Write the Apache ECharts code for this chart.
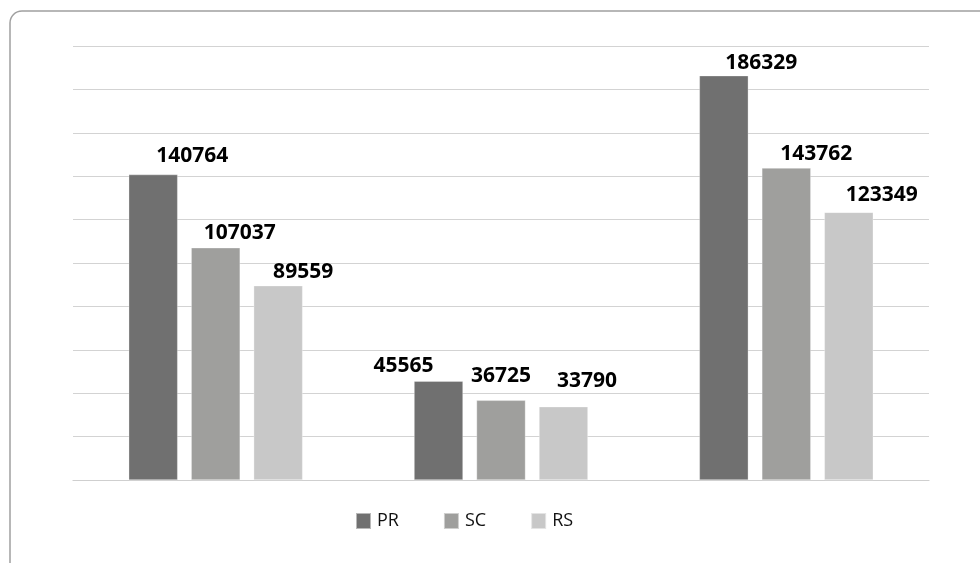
<!DOCTYPE html>
<html>
<head>
<meta charset="utf-8">
<script src="https://cdn.jsdelivr.net/npm/echarts@6/dist/echarts.min.js"></script>
<style>
html,body{margin:0;padding:0;background:#fff;}
#chart{width:980px;height:563px;}
</style>
</head>
<body>
<div id="chart"></div>
<script>
// Data
const categories = ['A', 'B', 'C'];
const seriesNames = ['PR', 'SC', 'RS'];
const prValues = [140764, 45565, 186329];
const scValues = [107037, 36725, 143762];
const rsValues = [89559, 33790, 123349];
const yMin = 0, yMax = 200000, yInterval = 20000;

// Layout / style (label nudges as placed in the original)
const colors = ['#707070', '#9f9f9d', '#c8c8c8'];
const labelOffsets = [
  [[39, -8.5], [-35, -5.5], [37.5, -3]],
  [[24, -5], [0, -14], [30, -4]],
  [[25, -4], [23.5, -16], [33, -7]]
];

const valueSets = [prValues, scValues, rsValues];

const chart = echarts.init(document.getElementById('chart'), null, {renderer: 'canvas'});

const series = seriesNames.map((name, si) => ({
  name: name,
  type: 'bar',
  barWidth: 49,
  barGap: '27.5%',
  itemStyle: {color: colors[si], borderColor: 'rgba(255,255,255,0.5)', borderWidth: 0.6},
  label: {
    show: true,
    position: 'top',
    distance: 0,
    color: '#000',
    fontFamily: 'Open Sans',
    fontWeight: 'bold',
    fontSize: 21,
    lineHeight: 20
  },
  data: valueSets[si].map((v, ci) => ({
    value: v,
    label: {offset: labelOffsets[si][ci]}
  }))
}));

chart.setOption({
  animation: false,
  backgroundColor: '#fff',
  graphic: [{
    type: 'rect',
    shape: {x: 10, y: 11, width: 1000, height: 600, r: 12},
    style: {fill: 'none', stroke: '#a0a0a0', lineWidth: 1.5},
    silent: true,
    z: 0
  }],
  grid: {left: 73, right: 51, top: 46, bottom: 83},
  legend: {
    data: seriesNames,
    left: 355,
    top: 512,
    padding: 0,
    itemWidth: 15,
    itemHeight: 16,
    itemGap: 44,
    icon: 'rect',
    textStyle: {fontFamily: 'Open Sans', fontSize: 18, color: '#111', padding: [0, 0, 0, 1]}
  },
  xAxis: {
    type: 'category',
    data: categories,
    axisLabel: {show: false},
    axisTick: {show: false},
    axisLine: {lineStyle: {color: '#cfcfcf', width: 1.2}}
  },
  yAxis: {
    type: 'value',
    min: yMin,
    max: yMax,
    interval: yInterval,
    axisLabel: {show: false},
    axisLine: {show: false},
    axisTick: {show: false},
    splitLine: {lineStyle: {color: '#d3d3d3', width: 1.2}}
  },
  series: series
});
</script>
</body>
</html>
